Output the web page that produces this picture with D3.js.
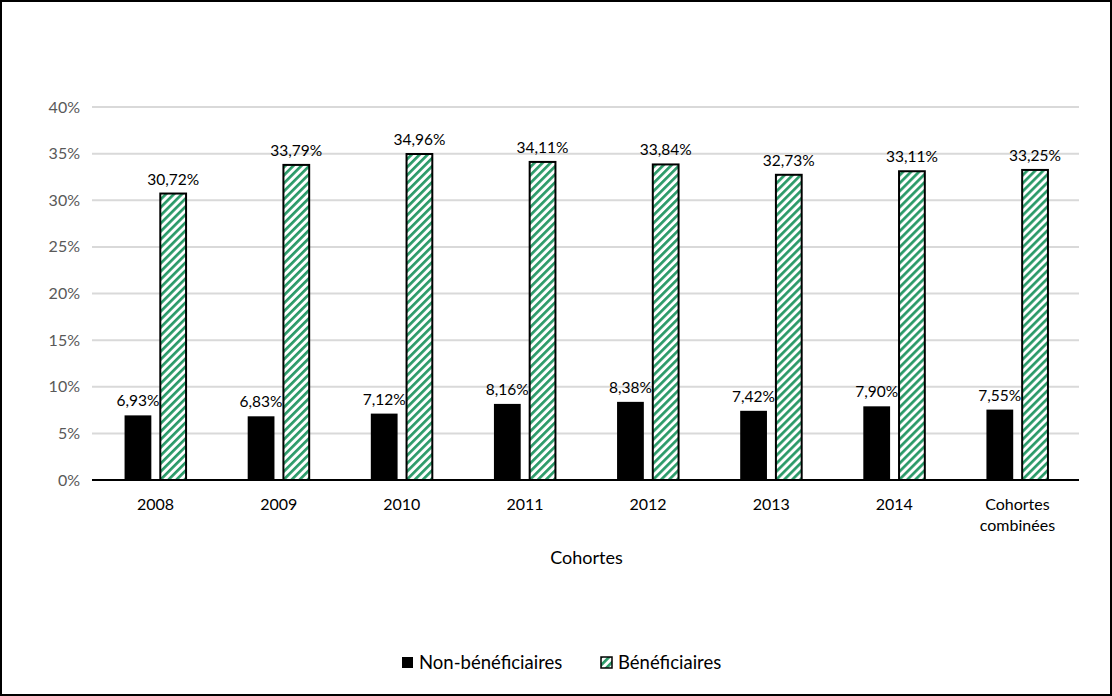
<!DOCTYPE html>
<html>
<head>
<meta charset="utf-8">
<script src="https://cdn.jsdelivr.net/npm/d3@7"></script>
<style>
  body { margin: 0; background: #fff; }
  svg { display: block; font-family: Lato, "Open Sans", sans-serif; }
</style>
</head>
<body>
<div id="chart"></div>
<script>
const cohorts = ["2008", "2009", "2010", "2011", "2012", "2013", "2014", "Cohortes combinées"];
const nonBeneficiaires = [6.93, 6.83, 7.12, 8.16, 8.38, 7.42, 7.90, 7.55];
const beneficiaires = [30.72, 33.79, 34.96, 34.11, 33.84, 32.73, 33.11, 33.25];
const yTicks = [0, 5, 10, 15, 20, 25, 30, 35, 40];
const seriesNames = ["Non-bénéficiaires", "Bénéficiaires"];

const width = 1112;
const height = 696;
const marginTop = 107;
const marginRight = 33;
const marginBottom = 216;
const marginLeft = 94;
const green = "#2a9a68";

const fmt = (v) => v.toFixed(2).replace(".", ",") + "%";

const svg = d3.select("#chart")
  .append("svg")
  .attr("width", width)
  .attr("height", height)
  .attr("viewBox", [0, 0, width, height]);

const defs = svg.append("defs");
const pattern = defs.append("pattern")
  .attr("id", "hatch")
  .attr("patternUnits", "userSpaceOnUse")
  .attr("width", 5.66)
  .attr("height", 5.66)
  .attr("patternTransform", "rotate(45)");
pattern.append("rect").attr("width", 5.66).attr("height", 5.66).attr("fill", "#fff");
pattern.append("rect").attr("width", 2.7).attr("height", 5.66).attr("fill", green);

svg.append("rect")
  .attr("x", 1).attr("y", 1)
  .attr("width", width - 2).attr("height", height - 2)
  .attr("fill", "#fff")
  .attr("stroke", "#000")
  .attr("stroke-width", 2);

const x0 = d3.scaleBand()
  .domain(cohorts)
  .range([marginLeft, width - marginRight]);

const x1 = d3.scaleBand()
  .domain(seriesNames)
  .range([x0.bandwidth() / 2 - 31, x0.bandwidth() / 2 + 31])
  .paddingInner(0.24);

const y = d3.scaleLinear()
  .domain([0, 40])
  .range([height - marginBottom, marginTop]);

// grid
svg.append("g")
  .selectAll("line")
  .data(yTicks.filter((d) => d > 0))
  .join("line")
  .attr("x1", marginLeft - 2)
  .attr("x2", width - marginRight)
  .attr("y1", (d) => y(d))
  .attr("y2", (d) => y(d))
  .attr("stroke", "#d9d9d9")
  .attr("stroke-width", 2);

// y tick labels
svg.append("g")
  .selectAll("text")
  .data(yTicks)
  .join("text")
  .attr("x", marginLeft - 14)
  .attr("y", (d) => y(d))
  .attr("dy", "0.35em")
  .attr("text-anchor", "end")
  .attr("font-size", 16)
  .attr("fill", "#595959")
  .text((d) => d + "%");

const rows = cohorts.map((c, i) => ({
  cohort: c,
  values: [nonBeneficiaires[i], beneficiaires[i]],
}));

const groups = svg.append("g")
  .selectAll("g")
  .data(rows)
  .join("g")
  .attr("transform", (d) => `translate(${x0(d.cohort)},0)`);

groups.selectAll("rect")
  .data((d) => d.values.map((v, i) => ({ key: seriesNames[i], v, i })))
  .join("rect")
  .attr("x", (d) => x1(d.key) + (d.i ? 0.5 : 0))
  .attr("y", (d) => y(d.v))
  .attr("width", (d) => x1.bandwidth() - (d.i ? 1 : 0))
  .attr("height", (d) => y(0) - y(d.v))
  .attr("fill", (d) => (d.i ? "url(#hatch)" : "#000"))
  .attr("stroke", (d) => (d.i ? "#000" : "none"))
  .attr("stroke-width", 2);

groups.selectAll("text")
  .data((d) => d.values.map((v, i) => ({ key: seriesNames[i], v, i })))
  .join("text")
  .attr("x", (d) => x1(d.key) + x1.bandwidth() / 2)
  .attr("y", (d) => y(d.v) - 9)
  .attr("text-anchor", "middle")
  .attr("font-size", 15.5)
  .attr("fill", "#000")
  .text((d) => fmt(d.v));

// baseline
svg.append("line")
  .attr("x1", marginLeft - 2)
  .attr("x2", width - marginRight)
  .attr("y1", y(0))
  .attr("y2", y(0))
  .attr("stroke", "#000")
  .attr("stroke-width", 2);

// category labels
svg.append("g")
  .selectAll("text")
  .data(cohorts)
  .join("text")
  .attr("x", (d) => x0(d) + x0.bandwidth() / 2)
  .attr("y", y(0) + 30)
  .attr("text-anchor", "middle")
  .attr("font-size", 16)
  .attr("fill", "#000")
  .each(function (d) {
    const words = d.split(" ");
    d3.select(this).selectAll("tspan")
      .data(words)
      .join("tspan")
      .attr("x", x0(d) + x0.bandwidth() / 2)
      .attr("dy", (_, i) => (i ? "1.3em" : 0))
      .text((w) => w);
  });

svg.append("text")
  .attr("x", (marginLeft + width - marginRight) / 2)
  .attr("y", 564)
  .attr("text-anchor", "middle")
  .attr("font-size", 18)
  .attr("fill", "#000")
  .text("Cohortes");

// legend
const legend = svg.append("g");
const legendItems = legend.selectAll("g")
  .data(seriesNames)
  .join("g")
  .attr("transform", (_, i) => `translate(${i ? 600 : 401},0)`);

legendItems.append("rect")
  .attr("x", 1)
  .attr("y", 657)
  .attr("width", 11)
  .attr("height", 11)
  .attr("fill", (_, i) => (i ? "url(#hatch)" : "#000"))
  .attr("stroke", "#000")
  .attr("stroke-width", (_, i) => (i ? 1.5 : 0));

legendItems.append("text")
  .attr("x", 18)
  .attr("y", 662.5)
  .attr("dy", "0.35em")
  .attr("font-size", 18.5)
  .attr("fill", "#000")
  .text((d) => d);
</script>
</body>
</html>
